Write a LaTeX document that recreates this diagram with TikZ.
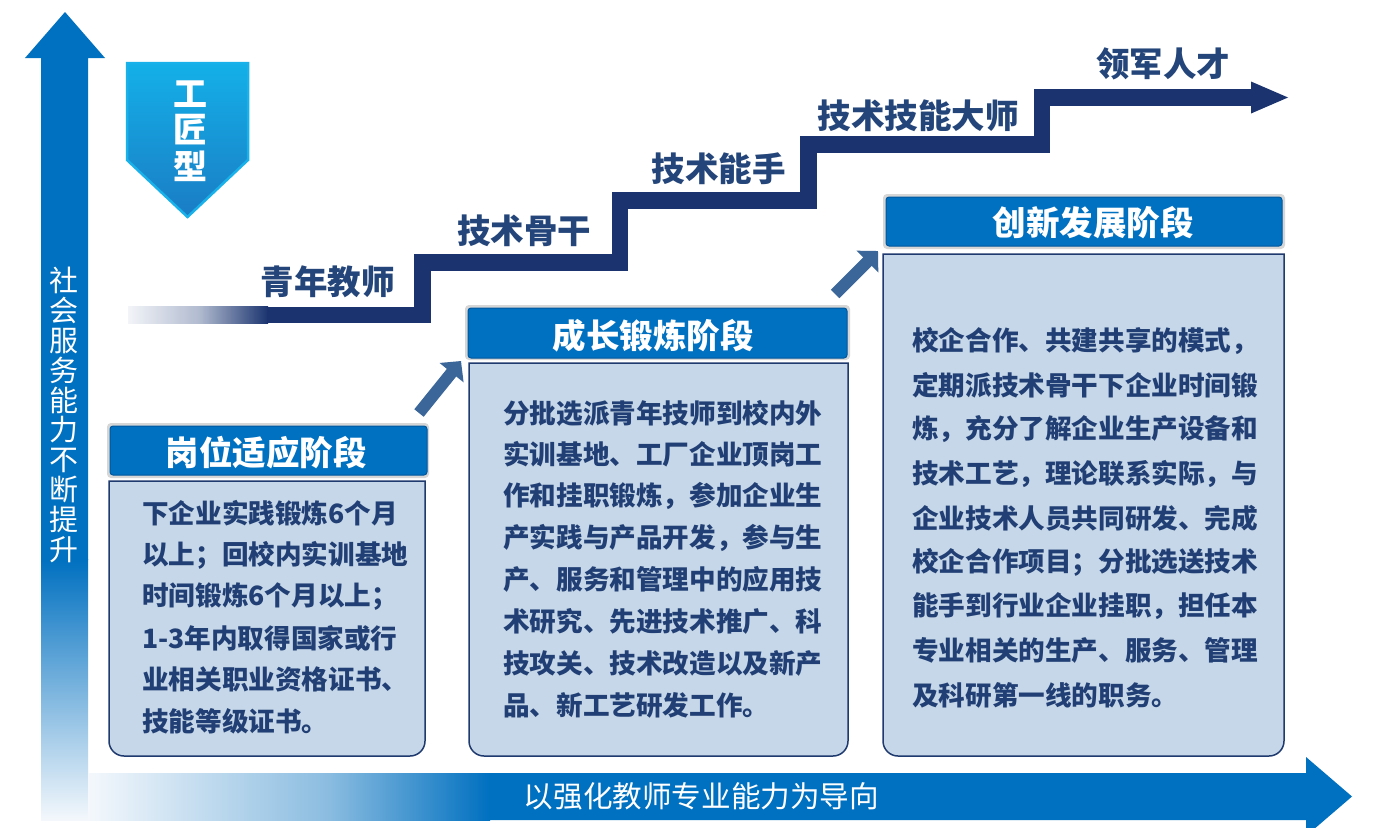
\documentclass[tikz,border=0pt]{standalone}
\usepackage{fontspec}
\setmainfont{Noto Sans CJK SC}
\usetikzlibrary{arrows.meta}
\definecolor{mainblue}{HTML}{0070C0}
\definecolor{navy}{HTML}{1B3470}
\definecolor{txtnavy}{HTML}{213F74}
\definecolor{lblnavy}{HTML}{234579}
\definecolor{boxfill}{HTML}{C5D7E8}
\definecolor{boxline}{HTML}{1F3A6E}
\definecolor{diag}{HTML}{3A6699}
\definecolor{fadew}{HTML}{F4F8FC}
\definecolor{hmid}{HTML}{8ABCE0}
\definecolor{smid}{HTML}{B0BACF}
\definecolor{sstart}{HTML}{F2F4F8}
\definecolor{bdtop}{HTML}{14B0E8}
\definecolor{bdmid}{HTML}{45A8CC}
\definecolor{bdbot}{HTML}{1A7CC4}
\definecolor{bdedge}{HTML}{19B1EA}
\definecolor{hdframe}{HTML}{D6D6D6}
\definecolor{hdedge}{HTML}{00579E}
\begin{document}
\begin{tikzpicture}[x=1pt,y=-1pt,
  stairline/.style={draw=navy, line width=16.5pt, line join=miter},
  stairlabel/.style={text=lblnavy, inner sep=0pt, font=\fontsize{33.5pt}{36pt}\selectfont\bfseries},
  headtext/.style={text=white, inner sep=0pt, font=\fontsize{33.5pt}{36pt}\selectfont\bfseries},
  bodytext/.style={text=txtnavy, inner sep=0pt, anchor=west, font=\fontsize{26.6pt}{30pt}\selectfont\bfseries},
  bodybox/.style={fill=boxfill, draw=boxline, line width=1.5pt},
  diagarr/.style={draw=diag, line width=12pt, -{Triangle[length=15pt,width=30pt]}},
  hdframe/.style={fill=hdframe, rounded corners=4pt},
  hdinner/.style={fill=mainblue, draw=hdedge, line width=1pt, rounded corners=3pt}
]
\useasboundingbox (0,0) rectangle (1378,827);
\clip (0,0) rectangle (1378,827);
\fill[white] (0,0) rectangle (1378,827);

% vertical arrow
\fill[mainblue] (41,58) -- (25,58) -- (65,12) -- (105,58) -- (88,58) -- (88,560) -- (41,560) -- cycle;
\shade[top color=mainblue, bottom color=fadew] (41,559) rectangle (88,820);
\node[text=white, align=center, inner sep=0pt, font=\fontsize{29pt}{29.8pt}\selectfont] (vert) at (64,415)
  {社\\会\\服\\务\\能\\力\\不\\断\\提\\升};

% horizontal arrow
\shade[left color=fadew, right color=hmid] (88,773) rectangle (330,820);
\shade[left color=hmid, right color=mainblue] (329.5,773) rectangle (490,820);
\fill[mainblue] (489.5,773) -- (1306,773) -- (1306,757) -- (1352,796.5) -- (1306,836) -- (1306,820) -- (489.5,820) -- cycle;
\node[text=white, inner sep=0pt, font=\fontsize{29.6pt}{30pt}\selectfont] (guide) at (701.5,796) {以强化教师专业能力为导向};

% badge
\shade[top color=bdtop, middle color=bdmid, bottom color=bdbot] (127,63) -- (248,63) -- (248,160) -- (187.5,217) -- (127,160) -- cycle;
\draw[bdedge, line width=2.5pt, line join=miter] (127,63) -- (248,63) -- (248,160) -- (187.5,217) -- (127,160) -- cycle;
\node[text=white, align=center, inner sep=0pt, font=\fontsize{34pt}{36.5pt}\selectfont\bfseries] (badge) at (190,131) {工\\匠\\型};

% stairs
\shade[left color=sstart, right color=smid] (128,306.75) rectangle (200,323.25);
\shade[left color=smid, right color=navy] (199.5,306.75) rectangle (268,323.25);
\draw[stairline] (267,315) -- (422.5,315) -- (422.5,262.5) -- (620,262.5) -- (620,200.5) -- (808.5,200.5) -- (808.5,144.5) -- (1042,144.5) -- (1042,97.5) -- (1252,97.5);
\fill[navy] (1251,81.5) -- (1288,97.5) -- (1251,113.5) -- cycle;

\node[stairlabel] (s1) at (327.5,282) {青年教师};
\node[stairlabel] (s2) at (524,231) {技术骨干};
\node[stairlabel] (s3) at (718.5,168.5) {技术能手};
\node[stairlabel] (s4) at (918,116) {技术技能大师};
\node[stairlabel] (s5) at (1163,63.5) {领军人才};

% headers
\fill[hdframe] (107,423) rectangle (429,478);
\draw[hdinner] (110,426) rectangle (427,475);
\node[headtext] (hA) at (266,452.5) {岗位适应阶段};

\fill[hdframe] (465,305) rectangle (850,360);
\draw[hdinner] (468,308) rectangle (847,358);
\node[headtext] (hB) at (653,335.5) {成长锻炼阶段};

\fill[hdframe] (883,194) rectangle (1285,249);
\draw[hdinner] (886,197) rectangle (1282,246);
\node[headtext] (hC) at (1093,223) {创新发展阶段};

% bodies
\draw[bodybox] (109,620) [sharp corners] -- (109,481) -- (425,481) -- (425,620) [rounded corners=15pt] -- (425,756) -- (109,756) -- cycle;
\draw[bodybox] (469,560) [sharp corners] -- (469,363) -- (848,363) -- (848,560) [rounded corners=15pt] -- (848,756) -- (469,756) -- cycle;
\draw[bodybox] (883,500) [sharp corners] -- (883,254) -- (1284,254) -- (1284,500) [rounded corners=15pt] -- (1284,756) -- (883,756) -- cycle;

\foreach \t [count=\i] in {下企业实践锻炼6个月, 以上；回校内实训基地, 时间锻炼6个月以上；, 1-3年内取得国家或行, 业相关职业资格证书、, 技能等级证书。}
  \node[bodytext] (bA\i) at (142,{513.5+41.5*(\i-1)}) {\t};

\foreach \t [count=\i] in {分批选派青年技师到校内外, 实训基地、工厂企业顶岗工, 作和挂职锻炼，参加企业生, 产实践与产品开发，参与生, 产、服务和管理中的应用技, 术研究、先进技术推广、科, 技攻关、技术改造以及新产, 品、新工艺研发工作。}
  \node[bodytext] (bB\i) at (503,{413+41.7*(\i-1)}) {\t};

\foreach \t [count=\i] in {校企合作、共建共享的模式，, 定期派技术骨干下企业时间锻, 炼，充分了解企业生产设备和, 技术工艺，理论联系实际，与, 企业技术人员共同研发、完成, 校企合作项目；分批选送技术, 能手到行业企业挂职，担任本, 专业相关的生产、服务、管理, 及科研第一线的职务。}
  \node[bodytext] (bC\i) at (912,{341+44.25*(\i-1)}) {\t};

% diagonal arrows
\coordinate (d1s) at (419,413);
\coordinate (d1e) at (461,361);
\coordinate (d2s) at (835,294);
\coordinate (d2e) at (878,251);
\draw[diagarr] (d1s) -- (d1e);
\draw[diagarr] (d2s) -- (d2e);
\end{tikzpicture}
\end{document}
